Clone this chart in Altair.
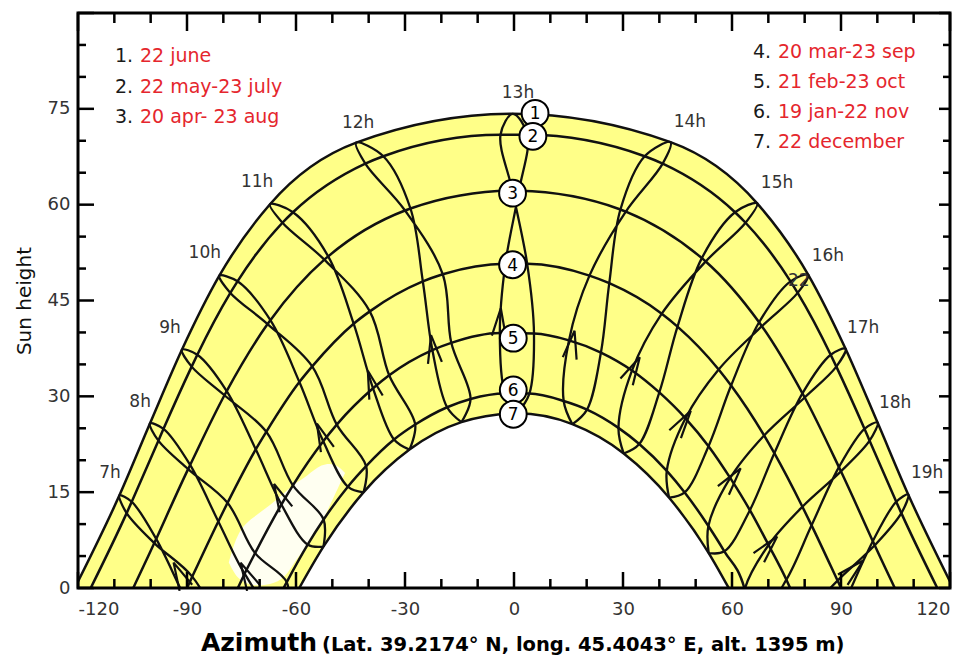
import altair as alt
import pandas as pd

FONT = "DejaVu Sans"
W, H = 872, 575

# ---------------- data ----------------
dates = ["Dec22", "Jan19", "Feb21", "Mar20", "Apr20", "May22",
         "Jun22", "Jul23", "Aug23", "Sep23", "Oct23", "Nov22"]
hours = [7, 8, 9, 10, 11, 12, 13, 14, 15, 16, 17, 18, 19]

az_dec22 = [None, -62.2, -52.45, -41.44, -28.76, -14.46, 0.83, 16.06, 30.2, 42.7, 53.59, 63.1, None]
alt_dec22 = [None, -3.3, 6.47, 14.96, 21.66, 25.96, 27.34, 25.64, 21.05, 14.13, 5.47, -4.4, None]
az_jan19 = [None, -66.7, -56.79, -45.73, -33.02, -18.41, -2.5, 13.67, 28.75, 42.05, 53.5, 63.5, None]
alt_jan19 = [None, -3.35, 6.80, 15.86, 23.24, 28.29, 30.45, 29.27, 25.06, 18.33, 9.71, -0.2, None]
az_feb21 = [-83.8, -74.14, -64.02, -52.5, -38.8, -22.47, -3.9, 15.13, 32.49, 47.2, 59.5, 70.06, 79.9]
alt_feb21 = [-9.1, 2.24, 13.07, 22.96, 31.26, 37.24, 39.91, 38.76, 34.05, 26.56, 17.23, 6.73, -4.5]
az_mar20 = [-90.9, -81.38, -71.08, -59.07, -44.13, -25.09, -2.37, 20.77, 40.67, 56.33, 68.83, 79.38, 89.05]
alt_mar20 = [-1.16, 10.42, 21.70, 32.24, 41.37, 47.98, 50.76, 48.89, 42.93, 34.20, 23.88, 12.72, 1.16]
az_apr20 = [-98.48, -89.14, -79.07, -67.05, -51.14, -28.5, 1.37, 30.78, 52.76, 68.23, 80.01, 89.98, 99.28]
alt_apr20 = [7.68, 19.26, 30.82, 41.92, 51.91, 59.40, 62.17, 58.92, 51.11, 40.98, 29.82, 18.26, 6.68]
az_may22 = [-105.21, -96.46, -87.16, -76.1, -60.83, -35.97, 3.71, 40.92, 63.73, 78.07, 88.72, 97.87, 106.61]
alt_may22 = [13.50, 24.91, 36.51, 48.0, 58.81, 67.58, 70.94, 66.42, 57.17, 46.19, 34.65, 23.06, 11.72]
az_jun22 = [-108.6, -100.2, -91.4, -81.1, -67.15, -43.43, -0.34, 43.08, 66.92, 80.99, 91.25, 100.06, 108.5]
alt_jun22 = [14.5, 25.74, 37.29, 48.88, 60.07, 69.70, 74.22, 69.78, 60.21, 49.02, 37.45, 25.89, 14.64]
az_jul23 = [-106.61, -97.87, -88.72, -78.07, -63.73, -40.92, -3.71, 35.97, 60.83, 76.1, 87.16, 96.46, 105.21]
alt_jul23 = [11.72, 23.06, 34.65, 46.19, 57.17, 66.42, 70.94, 67.58, 58.81, 48.0, 36.51, 24.91, 13.50]
az_aug23 = [-99.0, -89.69, -79.69, -67.82, -52.2, -29.99, -0.42, 29.29, 51.7, 67.46, 79.39, 89.43, 98.76]
alt_aug23 = [7.03, 18.61, 30.17, 41.31, 51.39, 59.09, 62.18, 59.25, 51.63, 41.59, 30.47, 18.92, 7.33]
az_sep23 = [-88.55, -78.85, -68.18, -55.54, -39.69, -19.6, 3.63, 26.22, 45.0, 59.75, 71.65, 81.9, 91.45]
alt_sep23 = [1.78, 13.33, 24.45, 34.69, 43.30, 49.10, 50.74, 47.71, 40.91, 31.69, 21.10, 9.81, -1.78]
az_oct23 = [-81.0, -71.26, -60.85, -48.78, -34.36, -17.26, 5.5, 23.93, 40.0, 53.54, 64.92, 74.97, None]
alt_oct23 = [-5.8, 5.46, 16.07, 25.58, 33.30, 38.37, 39.83, 36.86, 30.61, 22.20, 12.18, 1.30, None]
az_nov22 = [None, -62.55, -52.40, -40.70, -27.19, -11.96, 4.24, 20.1, 34.48, 46.98, 57.89, 67.4, None]
alt_nov22 = [None, 0.92, 10.72, 19.08, 25.58, 29.59, 30.43, 27.92, 22.53, 14.95, 5.74, -4.55, None]

# day curves (1..7) and the azimuth where each meets the horizon
curve_members = [["Jun22"], ["May22", "Jul23"], ["Apr20", "Aug23"], ["Mar20", "Sep23"],
                 ["Feb21", "Oct23"], ["Jan19", "Nov22"], ["Dec22"]]
sunrise_az = [120.9, 116.5, 104.8, 90.0, 76.0, 63.4, 59.1]

# erased (white) patch in the lower left
blob_az = [-78.5, -76, -72, -67, -63, -60, -57, -53, -49, -46.5]
blob_lo = [4.0, 1.2, 0.3, 0.5, 1.5, 4.5, 6.5, 10.0, 15.0, 18.0]
blob_hi = [4.0, 9.0, 11.0, 13.0, 15.0, 16.5, 17.5, 19.5, 19.5, 18.0]

# arrow heads on the hour lines
arrow_az = [-92.0, -73.5, -64.4, -52.8, -39.1, -22.3, -3.9, 16.0, 32.8, 46.5, 60.0, 69.9, 93.3]
arrow_alt = [2.0, 2.0, 14.3, 23.7, 31.9, 37.4, 41.6, 38.1, 34.2, 25.9, 17.0, 6.4, 2.8]
arrow_dir = [-26, -27, -25, -22, -17, -8, 4, 10, 28, 34, 38, 41, 47]

# hour labels
hour_labels = ["7h", "8h", "9h", "10h", "11h", "12h", "13h", "14h", "15h", "16h", "17h", "18h", "19h", "22"]
label_az = [-111.2, -102.9, -94.7, -85.1, -70.7, -42.9, 1.1, 48.4, 72.4, 86.4, 96.1, 104.9, 113.7, 78.4]
label_alt = [18.0, 29.1, 40.7, 52.4, 63.5, 72.8, 77.5, 72.9, 63.4, 52.0, 40.7, 29.0, 18.0, 48.1]

# numbered circles
circle_ids = ["1", "2", "3", "4", "5", "6", "7"]
circle_az = [5.8, 5.2, -0.4, -0.4, -0.2, -0.2, -0.2]
circle_alt = [74.3, 70.7, 61.8, 50.6, 39.1, 31.0, 27.2]

# legend
left_nums = ["1.", "2.", "3."]
left_texts = ["22 june", "22 may-23 july", "20 apr- 23 aug"]
right_nums = ["4.", "5.", "6.", "7."]
right_texts = ["20 mar-23 sep", "21 feb-23 oct", "19 jan-22 nov", "22 december"]

x_tick_values = list(range(-120, 121, 10))
y_tick_values = list(range(0, 91, 5))

# ---------------- tables ----------------
series = {
    "Dec22": (az_dec22, alt_dec22), "Jan19": (az_jan19, alt_jan19),
    "Feb21": (az_feb21, alt_feb21), "Mar20": (az_mar20, alt_mar20),
    "Apr20": (az_apr20, alt_apr20), "May22": (az_may22, alt_may22),
    "Jun22": (az_jun22, alt_jun22), "Jul23": (az_jul23, alt_jul23),
    "Aug23": (az_aug23, alt_aug23), "Sep23": (az_sep23, alt_sep23),
    "Oct23": (az_oct23, alt_oct23), "Nov22": (az_nov22, alt_nov22),
}

rows = []
for k, d in enumerate(dates + ["Dec22"]):
    azs, alts = series[d]
    for h, a, e in zip(hours, azs, alts):
        if a is None:
            continue
        rows.append({"k": k, "hour": h, "az": a, "alt": e})
grid = pd.DataFrame(rows)

crow = []
for i, (mem, sa) in enumerate(zip(curve_members, sunrise_az), start=1):
    for d in mem:
        azs, alts = series[d]
        for a, e in zip(azs, alts):
            if a is None or e < -0.5:
                continue
            crow.append({"curve": i, "az": a, "alt": e})
    crow.append({"curve": i, "az": -sa, "alt": 0.0})
    crow.append({"curve": i, "az": sa, "alt": 0.0})
curves = pd.DataFrame(crow).sort_values(["curve", "az"]).reset_index(drop=True)

blob = pd.DataFrame({"az": blob_az, "alt": blob_lo, "alt2": blob_hi})
arrows = pd.DataFrame({"az": arrow_az, "alt": arrow_alt, "ang": arrow_dir})
labels = pd.DataFrame({"az": label_az, "alt": label_alt, "lab": hour_labels})
circles = pd.DataFrame({"az": circle_az, "alt": circle_alt, "id": circle_ids})
xt = pd.DataFrame({"az": x_tick_values})
yt = pd.DataFrame({"alt": y_tick_values})

# ---------------- encodings ----------------
xs = alt.Scale(domain=[-120, 120], nice=False, zero=False)
ys = alt.Scale(domain=[0, 90], nice=False, zero=False)
x_axis = alt.Axis(values=[-120, -90, -60, -30, 0, 30, 60, 90, 120], ticks=False, domain=False,
                  grid=False, labelFont=FONT, labelFontSize=18, labelColor="#333333",
                  labelPadding=12, labelExpr="'' + datum.value", title="")
y_axis = alt.Axis(values=[0, 15, 30, 45, 60, 75], ticks=False, domain=False, grid=False,
                  labelFont=FONT, labelFontSize=18, labelColor="#333333", labelPadding=8,
                  title="Sun height", titleFont=FONT, titleFontSize=20, titleFontWeight="normal",
                  titleColor="#111111", titlePadding=13)
X = alt.X("az:Q", scale=xs, axis=x_axis)
Y = alt.Y("alt:Q", scale=ys, axis=y_axis)

YELLOW = "#FFFF88"
INK = "#111111"
RED = "#e5262d"

layers = []
layers.append(alt.Chart(curves).transform_filter("datum.curve == 1")
              .mark_area(color=YELLOW, interpolate="monotone", clip=True, opacity=1)
              .encode(x=X, y=Y))
layers.append(alt.Chart(curves).transform_filter("datum.curve == 7")
              .mark_area(color="white", interpolate="monotone", clip=True, opacity=1)
              .encode(x=X, y=Y))
layers.append(alt.Chart(blob)
              .mark_area(color="white", interpolate="basis", clip=True, opacity=0.88)
              .encode(x=X, y=Y, y2=alt.Y2("alt2:Q")))
layers.append(alt.Chart(curves)
              .mark_line(color=INK, strokeWidth=2.5, interpolate="monotone", clip=True)
              .encode(x=X, y=Y, detail="curve:N", order=alt.Order("az:Q")))
layers.append(alt.Chart(grid)
              .mark_line(color=INK, strokeWidth=2.3, interpolate="catmull-rom", clip=True)
              .encode(x=X, y=Y, detail="hour:N", order=alt.Order("k:Q")))
layers.append(alt.Chart(arrows).transform_calculate(a2="(datum.ang + 360) % 360")
              .mark_point(shape="M -0.5 1 L 0 -1 L 0.5 1", filled=False, color=INK,
                          strokeWidth=2.2, size=784, opacity=1)
              .encode(x=X, y=Y, angle=alt.Angle("a2:Q", scale=None)))
layers.append(alt.Chart(labels)
              .mark_text(font=FONT, fontSize=17, color="#333333", baseline="middle")
              .encode(x=X, y=Y, text="lab:N"))
for sel in ["datum.id == '1'", "datum.id != '1'"]:
    layers.append(alt.Chart(circles).transform_filter(sel)
                  .mark_point(shape="circle", filled=True, fill="white", stroke="black",
                              strokeWidth=2, size=720, opacity=1)
                  .encode(x=X, y=Y))
    layers.append(alt.Chart(circles).transform_filter(sel)
                  .mark_text(font=FONT, fontSize=17, color="black", baseline="middle", dy=1)
                  .encode(x=X, y=Y, text="id:N"))

# legend (two columns, multi-line text)
def legend_block(nums, texts, x0, y0, lh):
    d = pd.DataFrame({"n": ["\n".join(nums)], "t": ["\n".join(texts)]})
    a = alt.Chart(d).mark_text(font=FONT, fontSize=19, color="#1a1a1a", align="left",
                               baseline="alphabetic", lineBreak="\n", lineHeight=lh).encode(
        x=alt.value(x0), y=alt.value(y0), text="n:N")
    b = alt.Chart(d).mark_text(font=FONT, fontSize=19, color=RED, align="left",
                               baseline="alphabetic", lineBreak="\n", lineHeight=lh).encode(
        x=alt.value(x0 + 25), y=alt.value(y0), text="t:N")
    return [a, b]

layers += legend_block(left_nums, left_texts, 37, 49, 30.5)
layers += legend_block(right_nums, right_texts, 675, 45, 30)

# x title
t1 = pd.DataFrame({"t": ["Azimuth"]})
t2 = pd.DataFrame({"t": ["(Lat. 39.2174\u00b0 N, long. 45.4043\u00b0 E, alt. 1395 m)"]})
layers.append(alt.Chart(t1).mark_text(font=FONT, fontSize=25, fontWeight="bold", color="black",
                                      align="right", baseline="alphabetic")
              .encode(x=alt.value(239), y=alt.value(638), text="t:N"))
layers.append(alt.Chart(t2).mark_text(font=FONT, fontSize=19.5, fontWeight="bold", color="black",
                                      align="left", baseline="alphabetic")
              .encode(x=alt.value(244), y=alt.value(638), text="t:N"))

# inward ticks
def ticks(df, field_major, is_x, side, major_len, minor_len):
    out = []
    for flt, ln in [(field_major, major_len), ("!(" + field_major + ")", minor_len)]:
        c = alt.Chart(df).transform_filter(flt).mark_rule(color="black", strokeWidth=2.5)
        if is_x:
            if side == "top":
                c = c.encode(x=X, y=alt.value(0), y2=alt.value(ln))
            else:
                c = c.encode(x=X, y=alt.value(H), y2=alt.value(H - ln))
        else:
            if side == "left":
                c = c.encode(y=Y, x=alt.value(0), x2=alt.value(ln))
            else:
                c = c.encode(y=Y, x=alt.value(W), x2=alt.value(W - ln))
        out.append(c)
    return out

layers += ticks(xt, "datum.az % 30 == 0", True, "top", 18, 10)
layers += ticks(xt, "datum.az % 30 == 0", True, "bottom", 16, 9)
layers += ticks(yt, "datum.alt % 15 == 0", False, "left", 16, 8)
layers += ticks(yt, "datum.alt % 15 == 0", False, "right", 11, 7)

frame = alt.Chart(pd.DataFrame({"f": [1]})).mark_rect(fillOpacity=0, stroke="black", strokeWidth=3).encode(
    x=alt.value(0), x2=alt.value(W), y=alt.value(0), y2=alt.value(H))
layers.append(frame)

chart = alt.layer(*layers).properties(
    width=W, height=H,
    autosize=alt.AutoSizeParams(type="none"),
    padding={"left": 70, "top": 5, "right": 15, "bottom": 70},
    background="white",
).configure_view(strokeWidth=0)

chart.save("out.html", embed_options={"renderer": "svg", "actions": False})
